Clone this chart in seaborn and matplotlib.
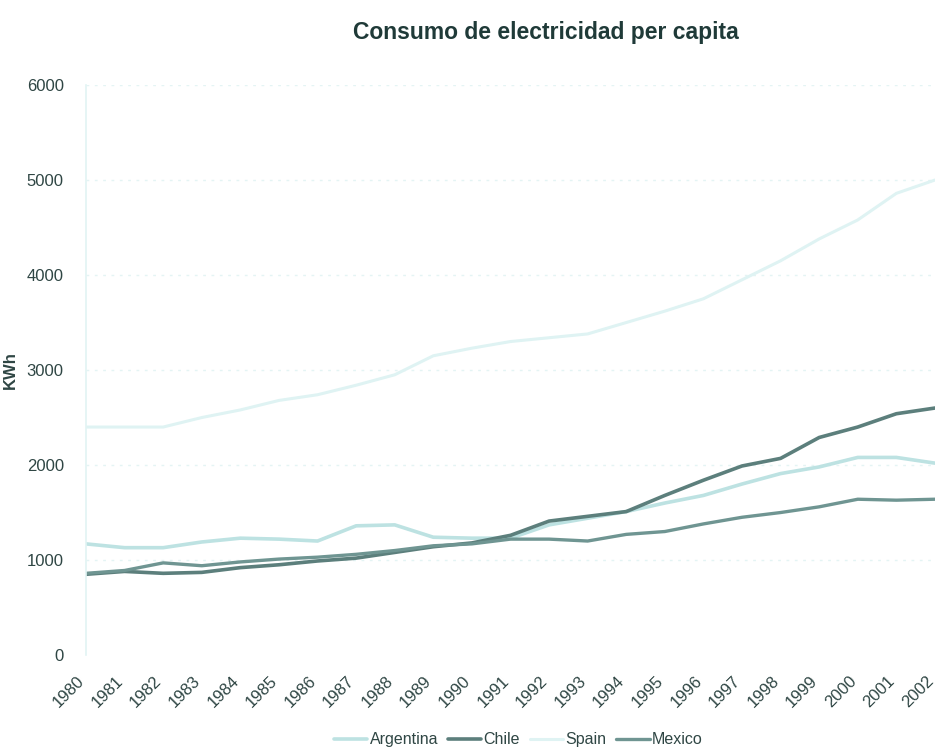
import matplotlib
matplotlib.use("Agg")
import matplotlib.pyplot as plt
import matplotlib.transforms as mtransforms
from matplotlib.lines import Line2D
import seaborn as sns
import pandas as pd

years = list(range(1980, 2003))
argentina = [1170, 1130, 1130, 1190, 1230, 1220, 1200, 1360, 1370, 1240, 1230, 1230,
             1370, 1440, 1510, 1600, 1680, 1800, 1910, 1980, 2080, 2080, 2020]
chile = [850, 880, 860, 870, 920, 950, 990, 1020, 1080, 1140, 1180, 1260,
         1410, 1460, 1510, 1680, 1840, 1990, 2070, 2290, 2400, 2540, 2600]
spain = [2400, 2400, 2400, 2500, 2580, 2680, 2740, 2840, 2950, 3150, 3230, 3300,
         3340, 3380, 3500, 3620, 3750, 3950, 4150, 4380, 4580, 4860, 5000]
mexico = [860, 890, 970, 940, 980, 1010, 1030, 1060, 1100, 1150, 1170, 1220,
          1220, 1200, 1270, 1300, 1380, 1450, 1500, 1560, 1640, 1630, 1640]
countries = ["Argentina", "Chile", "Spain", "Mexico"]
yticks = [0, 1000, 2000, 3000, 4000, 5000, 6000]

colors = {"Argentina": "#bde2e2", "Chile": "#5c7f7c", "Spain": "#dff3f3", "Mexico": "#6f9592"}
widths = {"Argentina": 2.6, "Chile": 2.6, "Spain": 2.2, "Mexico": 2.4}
text_color = "#2f4644"

rows = []
for name, vals in zip(countries, [argentina, chile, spain, mexico]):
    for y, v in zip(years, vals):
        rows.append({"Year": y, "KWh": v, "Country": name})
df = pd.DataFrame(rows)

sns.set_theme(style="white")
plt.rcParams["font.family"] = ["Liberation Sans", "DejaVu Sans"]

fig = plt.figure(figsize=(9.37, 7.48), dpi=100)
ax = fig.add_axes([0.0918, 0.1243, 0.906, 0.762])

for yv in yticks[1:]:
    ax.axhline(yv, color="#e4f4f4", lw=1, ls=(0, (2, 4)), zorder=0)

sns.lineplot(data=df, x="Year", y="KWh", hue="Country", palette=colors,
             hue_order=countries, ax=ax, legend=False, linewidth=2.5)
for line, name in zip(ax.get_lines()[len(yticks) - 1:], countries):
    line.set_linewidth(widths[name])

ax.set_xlim(1980, 2002)
ax.set_ylim(0, 6000)
ax.set_yticks(yticks)
ax.set_xticks(years)
ax.set_xticklabels([str(y) for y in years], rotation=45, ha="right", va="center",
                   rotation_mode="anchor", fontsize=12, color=text_color)
offset = mtransforms.ScaledTranslation(-4 / 100, -10 / 100, fig.dpi_scale_trans)
for lbl in ax.get_xticklabels():
    lbl.set_transform(lbl.get_transform() + offset)
ax.set_yticklabels([str(v) for v in yticks], fontsize=12, color=text_color)
ax.tick_params(axis="y", pad=10)
ax.set_xlabel("")
ax.set_ylabel("KWh", fontsize=12, fontweight="bold", color=text_color)
ax.yaxis.set_label_coords(-0.080, 0.5)
for s in ["top", "right", "bottom"]:
    ax.spines[s].set_visible(False)
ax.spines["left"].set_color("#e2f4f4")
ax.spines["left"].set_linewidth(1.2)

fig.text(0.583, 0.957, "Consumo de electricidad per capita", ha="center", va="center",
         fontsize=16.5, fontweight="bold", color="#1f3a38")

handles = [Line2D([0], [0], color=colors[c], lw=widths[c]) for c in countries]
leg = fig.legend(handles, countries, loc="center", bbox_to_anchor=(0.553, 0.011),
                 ncol=4, frameon=False, fontsize=11.5, handlelength=2.1,
                 handletextpad=0.15, columnspacing=0.6)
for t in leg.get_texts():
    t.set_color(text_color)

fig.savefig("out.png", dpi=100)
